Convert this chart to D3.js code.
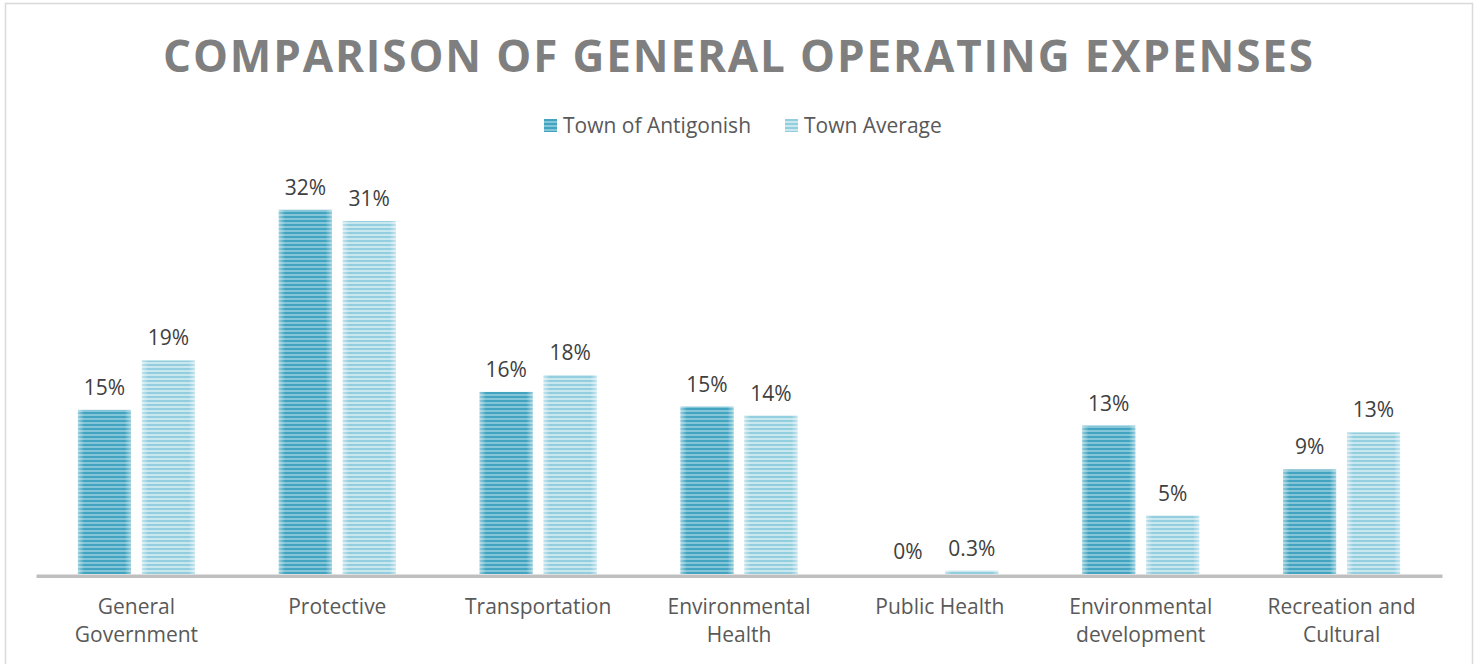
<!DOCTYPE html>
<html>
<head>
<meta charset="utf-8">
<script src="https://cdn.jsdelivr.net/npm/d3@7"></script>
<style>
  html, body { margin: 0; padding: 0; background: #fff; }
  svg { display: block; font-family: "Open Sans", "Noto Sans", sans-serif; }
</style>
</head>
<body>
<svg id="chart" width="1478" height="664"></svg>
<script>
// Category names (axis labels) and the two series, in percent of operating expenses
const categories = [
  "General Government", "Protective", "Transportation", "Environmental Health",
  "Public Health", "Environmental development", "Recreation and Cultural"
];
const seriesNames = ["Town of Antigonish", "Town Average"];
const antigonish = [14.6, 32.4, 16.2, 14.9, 0, 13.2, 9.3];
const townAverage = [19.0, 31.4, 17.7, 14.1, 0.3, 5.2, 12.6];
const yDomain = [0, 35];

const svg = d3.select("#chart");
const defs = svg.append("defs");
const fontSize = 21;

// Striped fills for the two series
const palette = [
  { id: "stripeA", dark: "#42a4c0", light: "#84c6d8" },
  { id: "stripeB", dark: "#92cede", light: "#c9e7ef" }
];
palette.forEach(p => {
  const pat = defs.append("pattern")
    .attr("id", p.id).attr("patternUnits", "userSpaceOnUse")
    .attr("width", 8).attr("height", 4);
  pat.append("rect").attr("width", 8).attr("height", 4).attr("fill", p.light);
  pat.append("rect").attr("width", 8).attr("height", 2).attr("fill", p.dark);
});
// Soft light edges on each bar
const glow = defs.append("linearGradient").attr("id", "edgeGlow")
  .attr("x1", "0%").attr("x2", "100%").attr("y1", "0%").attr("y2", "0%");
[[0, 0.45], [0.12, 0], [0.88, 0], [1, 0.45]].forEach(([o, a]) =>
  glow.append("stop").attr("offset", o).attr("stop-color", "#fff").attr("stop-opacity", a));

// Chart frame
svg.append("rect")
  .attr("x", 5.5).attr("y", 3.5).attr("width", 1467).attr("height", 700)
  .attr("fill", "none").attr("stroke", "#d9d9d9").attr("stroke-width", 1.5);

// Title
svg.append("text")
  .attr("x", 738).attr("y", 72)
  .attr("text-anchor", "middle")
  .attr("font-size", 44).attr("font-weight", 700)
  .attr("fill", "#7f7f7f")
  .attr("textLength", 1150).attr("lengthAdjust", "spacing")
  .text("COMPARISON OF GENERAL OPERATING EXPENSES");

// Legend
const legendX = [544, 785];
const legend = svg.append("g");
seriesNames.forEach((name, i) => {
  const g = legend.append("g").attr("transform", `translate(${legendX[i]},119)`);
  g.append("rect").attr("width", 13).attr("height", 13).attr("fill", `url(#${palette[i].id})`);
  g.append("text").attr("x", 19).attr("y", 14)
    .attr("font-size", fontSize).attr("fill", "#595959").text(name);
});

// Scales
const baseY = 574;
const x0 = d3.scaleBand().domain(categories).range([36, 1442]).padding(0);
const groupW = 117;
const x1 = d3.scaleBand().domain(seriesNames).range([0, groupW]).paddingInner(0.17);
const y = d3.scaleLinear().domain(yDomain).range([baseY, baseY - 35 * 11.24]);

const rows = categories.map((c, i) => ({
  cat: c,
  vals: [
    { s: seriesNames[0], v: antigonish[i], k: 0 },
    { s: seriesNames[1], v: townAverage[i], k: 1 }
  ]
}));

const fmt = v => (v > 0 && v < 1 ? d3.format(".1f")(v) : d3.format(".0f")(v)) + "%";

const groups = svg.append("g").selectAll("g.cat").data(rows).join("g")
  .attr("class", "cat")
  .attr("transform", d => `translate(${x0(d.cat) + (x0.bandwidth() - groupW) / 2},0)`);

const bars = groups.selectAll("g.bar").data(d => d.vals).join("g").attr("class", "bar");
bars.append("rect")
  .attr("x", d => x1(d.s)).attr("width", x1.bandwidth())
  .attr("y", d => y(d.v)).attr("height", d => baseY - y(d.v))
  .attr("fill", d => `url(#${palette[d.k].id})`);
bars.append("rect")
  .attr("x", d => x1(d.s)).attr("width", x1.bandwidth())
  .attr("y", d => y(d.v)).attr("height", d => baseY - y(d.v))
  .attr("fill", "url(#edgeGlow)");
bars.append("text")
  .attr("x", d => x1(d.s) + x1.bandwidth() / 2)
  .attr("y", d => y(d.v) - 15)
  .attr("text-anchor", "middle")
  .attr("font-size", fontSize).attr("fill", "#404040")
  .text(d => fmt(d.v));

// Category axis
const wrapLines = {
  "General Government": ["General", "Government"],
  "Environmental Health": ["Environmental", "Health"],
  "Environmental development": ["Environmental", "development"],
  "Recreation and Cultural": ["Recreation and", "Cultural"]
};
const axis = svg.append("g")
  .attr("transform", `translate(0,${baseY + 1.8})`)
  .call(d3.axisBottom(x0).tickSize(0).tickSizeOuter(0));
axis.select(".domain").attr("stroke", "#bfbfbf").attr("stroke-width", 3.5);
axis.selectAll(".tick text").each(function(d) {
  const t = d3.select(this);
  const lines = wrapLines[d] || [d];
  t.text(null).attr("y", 0).attr("dy", null)
    .attr("font-size", fontSize).attr("font-family", "\"Open Sans\", sans-serif")
    .attr("fill", "#595959");
  lines.forEach((ln, i) => {
    t.append("tspan").attr("x", 0).attr("y", 38 + i * 28).text(ln);
  });
});
</script>
</body>
</html>
